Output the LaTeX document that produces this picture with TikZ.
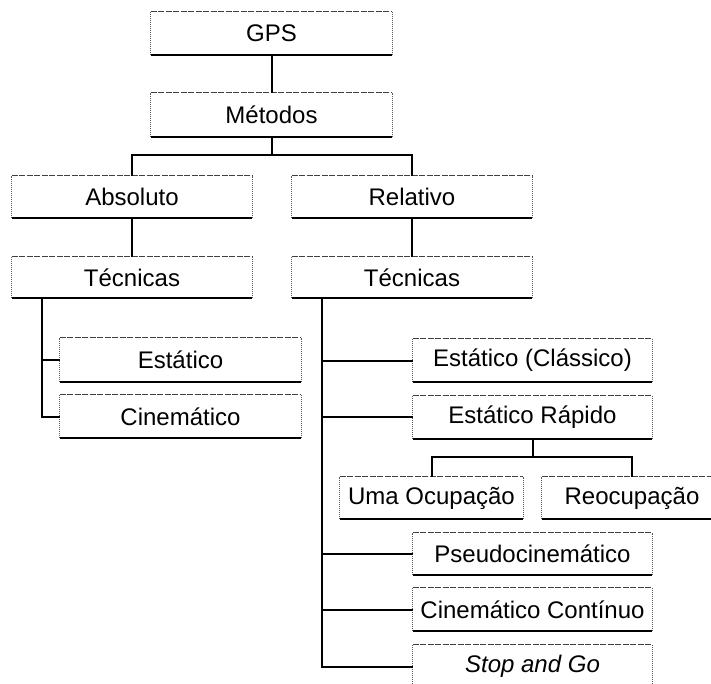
\documentclass[tikz,border=0pt]{standalone}
\usepackage{fontspec}
\setmainfont{Liberation Sans}
\begin{document}
\begin{tikzpicture}[x=1pt,y=-1pt,
  box/.style={draw=none, minimum height=43pt, inner sep=0pt, font=\fontsize{24}{28}\selectfont},
  sideline/.style={draw=black!65, line width=1pt, densely dotted},
  topline/.style={draw=black!75, line width=1.1pt, dash pattern=on 6pt off 1.5pt},
  bottomline/.style={draw=black, line width=1.6pt},
  conn/.style={line width=2pt}]
\useasboundingbox (0,0) rectangle (711,684);
\clip (0,0) rectangle (711,684);
\fill[white] (0,0) rectangle (711,684);

\node[box, minimum width=241pt] (gps) at (271.5,33.5) {GPS};
\node[box, minimum width=241pt, minimum height=44pt] (met) at (271.5,115) {Métodos};
\node[box, minimum width=240pt, minimum height=42pt] (abs) at (132,197) {Absoluto};
\node[box, minimum width=240pt, minimum height=42pt] (rel) at (412,197) {Relativo};
\node[box, minimum width=240pt, minimum height=41pt] (teca) at (132,277.5) {Técnicas};
\node[box, minimum width=240pt, minimum height=41pt] (tecb) at (412,277.5) {Técnicas};
\node[box, minimum width=241pt, minimum height=44pt] (esta) at (180.5,360) {Estático};
\node[box, minimum width=241pt] (cina) at (180.5,416.5) {Cinemático};
\node[box, minimum width=239pt] (ec) at (532.5,360.5) {Estático (Clássico)};
\node[box, minimum width=239pt] (er) at (532.5,417) {Estático Rápido};
\node[box, minimum width=183pt, minimum height=42pt] (uma) at (431.5,498) {Uma Ocupação};
\node[box, minimum width=180pt, minimum height=42pt] (reo) at (632,498) {Reocupação};
\node[box, minimum width=239pt, minimum height=42pt] (ps) at (532.5,554) {Pseudocinemático};
\node[box, minimum width=239pt] (cc) at (532.5,609.5) {Cinemático Contínuo};
\node[box, minimum width=239pt] (stop) at (532.5,666.5) {\itshape Stop and Go};

\foreach \n in {gps,met,abs,rel,teca,tecb,esta,cina,ec,er,uma,reo,ps,cc,stop}{
  \draw[sideline] (\n.south west) -- (\n.north west);
  \draw[sideline] (\n.south east) -- (\n.north east);
  \draw[topline] (\n.north west) -- (\n.north east);
  \draw[bottomline] (\n.south west) -- (\n.south east);
}

\coordinate (j1) at (271.5,155);
\coordinate (j2) at (532.5,457);
\coordinate (sa) at (42,298);
\coordinate (sb) at (322,298);

\draw[conn] (gps.south) -- (met.north);
\draw[conn] (met.south) -- (j1);
\draw[conn] (abs.north) |- (j1) -| (rel.north);
\draw[conn] (abs.south) -- (teca.north);
\draw[conn] (rel.south) -- (tecb.north);
\draw[conn] (sa) |- (cina.west);
\draw[conn] (sa |- esta.west) -- (esta.west);
\draw[conn] (sb) |- (stop.west);
\draw[conn] (sb |- ec.west) -- (ec.west);
\draw[conn] (sb |- er.west) -- (er.west);
\draw[conn] (sb |- ps.west) -- (ps.west);
\draw[conn] (sb |- cc.west) -- (cc.west);
\draw[conn] (er.south) -- (j2);
\draw[conn] (uma.north) |- (j2) -| (reo.north);
\end{tikzpicture}
\end{document}
